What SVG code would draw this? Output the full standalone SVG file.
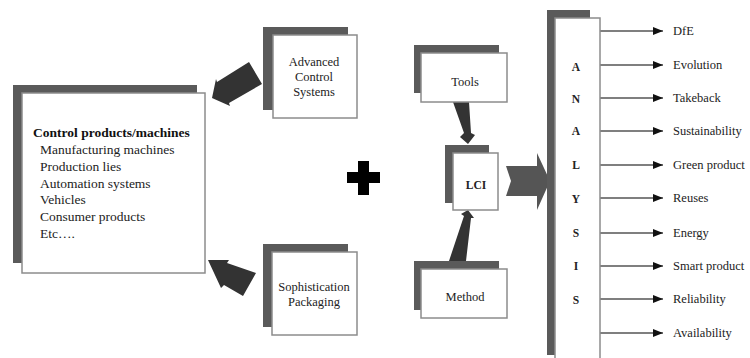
<svg xmlns="http://www.w3.org/2000/svg" width="750" height="358" viewBox="0 0 750 358">
<defs>
<style>
.shadow{fill:#5a5a5a}
.box{fill:#ffffff;stroke:#8c8c8c;stroke-width:1.5}
.t{font-family:"Liberation Serif","Times New Roman",serif;font-size:12.5px;fill:#222}
.tb{font-family:"Liberation Serif","Times New Roman",serif;font-size:13.5px;font-weight:bold;fill:#111}
.ti{font-family:"Liberation Serif","Times New Roman",serif;font-size:13.5px;fill:#222}
.tl{font-family:"Liberation Serif","Times New Roman",serif;font-size:11.5px;font-weight:bold;fill:#222}
.c{text-anchor:middle}
.fat{fill:#333333}
.out{stroke:#555555;stroke-width:1.3;fill:none}
</style>
<marker id="ah" viewBox="0 0 10 8" refX="10" refY="4" markerWidth="10" markerHeight="8" markerUnits="userSpaceOnUse" orient="auto">
<path d="M0,0 L10,4 L0,8 Z" fill="#111"/>
</marker>
</defs>
<rect width="750" height="358" fill="#ffffff"/>

<g id="connectors">
<polygon class="fat" points="249,62 262,84 229,103 230,106 212,98 216,79 217,82"/>
<polygon class="fat" points="256,273 243,296 224,285 221,288 208,260 229,260 227,263"/>
<polygon class="fat" points="453,102 469,102 471,133 475,135 468,144 460,137 464,133"/>
<polygon class="fat" points="449,261 466,261 471,218 474,218 468,210 461,214 464,216"/>
<polygon fill="#555555" points="506,166 537,166 537,153 550,181 537,210 537,196 506,196 511,181"/>
<line class="out" x1="600" y1="31" x2="663" y2="31" marker-end="url(#ah)"/>
<line class="out" x1="600" y1="65" x2="663" y2="65" marker-end="url(#ah)"/>
<line class="out" x1="600" y1="98" x2="663" y2="98" marker-end="url(#ah)"/>
<line class="out" x1="600" y1="131" x2="663" y2="131" marker-end="url(#ah)"/>
<line class="out" x1="600" y1="165" x2="663" y2="165" marker-end="url(#ah)"/>
<line class="out" x1="600" y1="198" x2="663" y2="198" marker-end="url(#ah)"/>
<line class="out" x1="600" y1="233" x2="663" y2="233" marker-end="url(#ah)"/>
<line class="out" x1="600" y1="266" x2="663" y2="266" marker-end="url(#ah)"/>
<line class="out" x1="600" y1="299" x2="663" y2="299" marker-end="url(#ah)"/>
<line class="out" x1="600" y1="333" x2="663" y2="333" marker-end="url(#ah)"/>
</g>

<g id="products">
<rect class="shadow" x="13" y="85" width="184" height="178"/>
<rect class="box" x="22" y="93" width="183" height="180"/>
<text class="tb" x="33" y="137">Control products/machines</text>
<text class="ti" x="40" y="154">Manufacturing machines</text>
<text class="ti" x="40" y="171">Production lies</text>
<text class="ti" x="40" y="188">Automation systems</text>
<text class="ti" x="40" y="204">Vehicles</text>
<text class="ti" x="40" y="221">Consumer products</text>
<text class="ti" x="40" y="238">Etc….</text>
</g>

<g id="advanced-control">
<rect class="shadow" x="263" y="27" width="85" height="83"/>
<rect class="box" x="273" y="35" width="84" height="83"/>
<text class="t c" x="314" y="66">Advanced</text>
<text class="t c" x="314" y="81">Control</text>
<text class="t c" x="314" y="96">Systems</text>
</g>

<g id="sophistication">
<rect class="shadow" x="263" y="244" width="85" height="83"/>
<rect class="box" x="272" y="252" width="85" height="83"/>
<text class="t c" x="314" y="291">Sophistication</text>
<text class="t c" x="314" y="306">Packaging</text>
</g>

<g id="plus">
<rect x="347" y="172" width="33" height="11" fill="#000"/>
<rect x="358" y="161" width="11" height="34" fill="#000"/>
</g>

<g id="tools">
<rect class="shadow" x="414" y="45" width="85" height="48"/>
<rect class="box" x="421" y="53" width="86" height="49"/>
<text class="t c" x="465" y="86">Tools</text>
</g>

<g id="lci">
<rect class="shadow" x="445" y="145" width="44" height="58"/>
<rect class="box" x="453" y="153" width="45" height="57"/>
<text class="tl c" x="476" y="189">LCI</text>
</g>

<g id="method">
<rect class="shadow" x="414" y="261" width="85" height="49"/>
<rect class="box" x="421" y="269" width="86" height="49"/>
<text class="t c" x="465" y="301">Method</text>
</g>

<g id="analysis">
<rect class="shadow" x="547" y="10" width="43" height="345"/>
<rect class="box" x="555" y="18" width="45" height="350"/>
<text class="tl c" x="576" y="71">A</text>
<text class="tl c" x="576" y="103">N</text>
<text class="tl c" x="576" y="135">A</text>
<text class="tl c" x="576" y="169">L</text>
<text class="tl c" x="576" y="203">Y</text>
<text class="tl c" x="576" y="237">S</text>
<text class="tl c" x="576" y="270">I</text>
<text class="tl c" x="576" y="304">S</text>
</g>

<g id="outputs">
<text class="t" x="673" y="35">DfE</text>
<text class="t" x="673" y="69">Evolution</text>
<text class="t" x="673" y="102">Takeback</text>
<text class="t" x="673" y="135">Sustainability</text>
<text class="t" x="673" y="169">Green product</text>
<text class="t" x="673" y="202">Reuses</text>
<text class="t" x="673" y="237">Energy</text>
<text class="t" x="673" y="270">Smart product</text>
<text class="t" x="673" y="303">Reliability</text>
<text class="t" x="673" y="337">Availability</text>
</g>
</svg>
